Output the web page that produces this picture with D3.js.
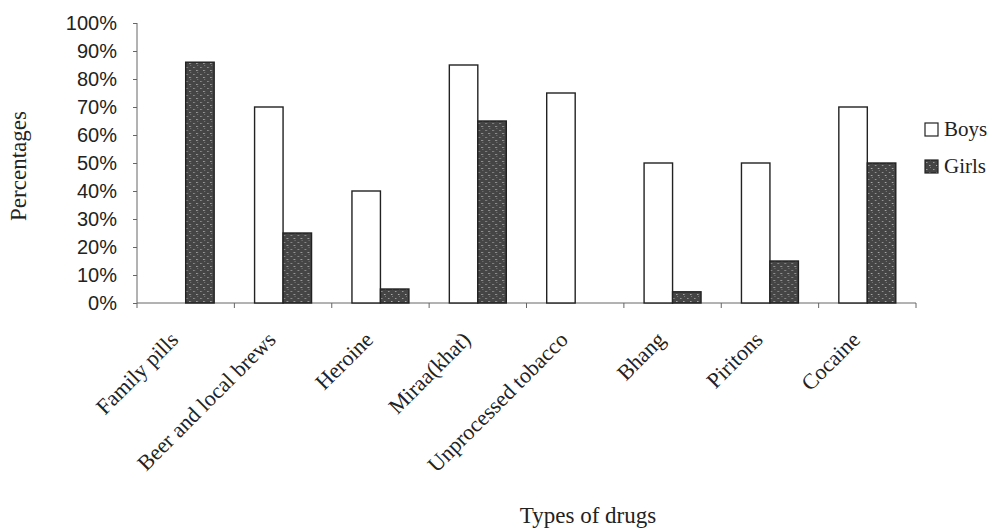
<!DOCTYPE html>
<meta charset="utf-8">
<style>
body { margin: 0; background: #fff; }
.axis path, .axis line { stroke: #666; }
.axis text { fill: #222; }
</style>
<svg width="1004" height="532"></svg>
<script src="https://cdn.jsdelivr.net/npm/d3@7"></script>
<script>

var drugs = ["Family pills", "Beer and local brews", "Heroine", "Miraa(khat)",
             "Unprocessed tobacco", "Bhang", "Piritons", "Cocaine"];
var boys  = [0, 70, 40, 85, 75, 50, 50, 70];
var girls = [86, 25, 5, 65, 0, 4, 15, 50];
var seriesNames = ["Boys", "Girls"];
var yTicks = [0, 10, 20, 30, 40, 50, 60, 70, 80, 90, 100];

var serif = "'Liberation Serif', 'Times New Roman', serif";

var svg = d3.select("svg"),
    margin = {top: 23, right: 88, bottom: 229, left: 137},
    width = svg.attr("width") - margin.left - margin.right,
    height = svg.attr("height") - margin.top - margin.bottom,
    g = svg.append("g").attr("transform", "translate(" + margin.left + "," + margin.top + ")");

// speckled dark fill for the girls bars
var defs = svg.append("defs");
var pat = defs.append("pattern")
    .attr("id", "speckle")
    .attr("width", 7).attr("height", 7)
    .attr("patternUnits", "userSpaceOnUse");
pat.append("rect").attr("width", 7).attr("height", 7).attr("fill", "#454545");
pat.append("rect").attr("x", 1).attr("y", 2).attr("width", 1.5).attr("height", 1).attr("fill", "#9a9a9a");
pat.append("rect").attr("x", 4).attr("y", 5).attr("width", 1.5).attr("height", 1).attr("fill", "#b0b0b0");
pat.append("rect").attr("x", 5).attr("y", 0).attr("width", 1).attr("height", 1).attr("fill", "#7a7a7a");

var data = drugs.map(function(d, i) {
  return {drug: d, values: [{key: "Boys", value: boys[i]}, {key: "Girls", value: girls[i]}]};
});

var x0 = d3.scaleBand().domain(drugs).range([0, width]).paddingInner(0.415).paddingOuter(0.2075),
    x1 = d3.scaleBand().domain(seriesNames).range([0, x0.bandwidth()]),
    y = d3.scaleLinear().domain([0, 100]).range([height, 0]);

var fills = {Boys: "#fff", Girls: "url(#speckle)"};

// y axis
g.append("g")
    .attr("class", "axis axis--y")
    .call(d3.axisLeft(y).tickValues(yTicks).tickSize(4).tickPadding(16)
      .tickFormat(function(d) { return d + "%"; }))
    .call(function(s) { s.select(".domain").attr("d", "M0," + height + "V0"); })
    .selectAll("text")
      .style("font-family", "'Liberation Sans', Arial, sans-serif")
      .style("font-size", "20px");

// x axis with ticks between categories
var step = x0.step();
var xAxis = g.append("g")
    .attr("class", "axis axis--x")
    .attr("transform", "translate(0," + height + ")");
xAxis.append("line").attr("x1", 0).attr("x2", width).attr("stroke", "#666");
xAxis.selectAll(".tk")
  .data(d3.range(drugs.length + 1))
  .enter().append("line")
    .attr("class", "tk")
    .attr("x1", function(i) { return i * step; })
    .attr("x2", function(i) { return i * step; })
    .attr("y1", 0).attr("y2", 5)
    .attr("stroke", "#666");

xAxis.selectAll(".lbl")
  .data(drugs)
  .enter().append("text")
    .attr("class", "lbl")
    .attr("transform", function(d) {
      return "translate(" + (x0(d) + x0.bandwidth() / 2 - 6) + ",38) rotate(-45)";
    })
    .attr("text-anchor", "end")
    .style("font-family", serif)
    .style("font-size", "22px")
    .attr("fill", "#222")
    .text(function(d) { return d; });

// bars
var grp = g.selectAll(".grp")
  .data(data)
  .enter().append("g")
    .attr("class", "grp")
    .attr("transform", function(d) { return "translate(" + x0(d.drug) + ",0)"; });

grp.selectAll("rect")
  .data(function(d) { return d.values.filter(function(v) { return v.value > 0; }); })
  .enter().append("rect")
    .attr("x", function(d) { return x1(d.key); })
    .attr("y", function(d) { return y(d.value); })
    .attr("width", x1.bandwidth())
    .attr("height", function(d) { return height - y(d.value); })
    .attr("fill", function(d) { return fills[d.key]; })
    .attr("stroke", "#222")
    .attr("stroke-width", 1.4);

// axis titles
svg.append("text")
    .attr("transform", "translate(26,166) rotate(-90)")
    .attr("text-anchor", "middle")
    .style("font-family", serif)
    .style("font-size", "23px")
    .attr("fill", "#222")
    .text("Percentages");

svg.append("text")
    .attr("x", 588)
    .attr("y", 523)
    .attr("text-anchor", "middle")
    .style("font-family", serif)
    .style("font-size", "23px")
    .attr("fill", "#222")
    .text("Types of drugs");

// legend
var legend = svg.append("g").attr("transform", "translate(925,123)");
var li = legend.selectAll(".li")
  .data(seriesNames)
  .enter().append("g")
    .attr("class", "li")
    .attr("transform", function(d, i) { return "translate(0," + i * 37 + ")"; });
li.append("rect")
    .attr("width", 13).attr("height", 13)
    .attr("fill", function(d) { return fills[d]; })
    .attr("stroke", "#222")
    .attr("stroke-width", 1.2);
li.append("text")
    .attr("x", 19)
    .attr("y", 13)
    .style("font-family", serif)
    .style("font-size", "21px")
    .attr("fill", "#222")
    .text(function(d) { return d; });

</script>
